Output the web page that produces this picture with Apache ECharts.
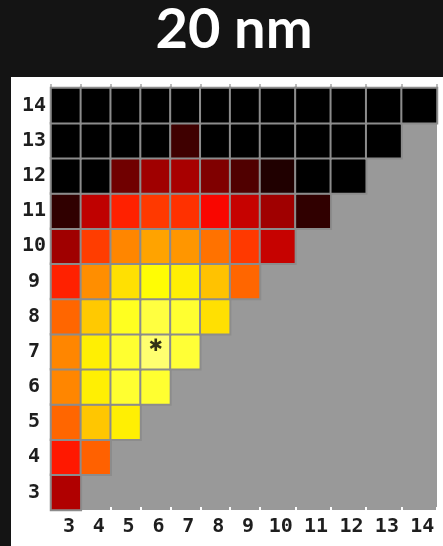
<!DOCTYPE html>
<html>
<head>
<meta charset="utf-8">
<script src="https://cdn.jsdelivr.net/npm/echarts@6/dist/echarts.min.js"></script>
<style>
html,body{margin:0;padding:0;background:#141414;}
#chart{width:443px;height:546px;}
</style>
</head>
<body>
<div id="chart"></div>
<script>
// ---- data ----
const xLabels = ['3','4','5','6','7','8','9','10','11','12','13','14'];
const yLabels = ['3','4','5','6','7','8','9','10','11','12','13','14'];
// normalised intensity per row (y), starting at x = 3
const row3  = [0.252];
const row4  = [0.400, 0.508];
const row5  = [0.515, 0.658, 0.724];
const row6  = [0.562, 0.724, 0.794, 0.794];
const row7  = [0.562, 0.724, 0.794, 0.857, 0.800];
const row8  = [0.515, 0.664, 0.778, 0.810, 0.794, 0.700];
const row9  = [0.413, 0.574, 0.700, 0.746, 0.724, 0.652, 0.515];
const row10 = [0.229, 0.455, 0.562, 0.604, 0.586, 0.532, 0.449, 0.286];
const row11 = [0.069, 0.275, 0.413, 0.449, 0.437, 0.365, 0.286, 0.229, 0.069];
const row12 = [0.000, 0.000, 0.160, 0.229, 0.240, 0.183, 0.115, 0.046, 0.000, 0.000];
const row13 = [0.000, 0.000, 0.000, 0.000, 0.090, 0.000, 0.000, 0.000, 0.000, 0.000, 0.000];
const row14 = [0.000, 0.000, 0.000, 0.000, 0.000, 0.000, 0.000, 0.000, 0.000, 0.000, 0.000, 0.000];
const starCell = ['6', '7'];
const titleText = '20 nm';

// ---- build heatmap data ----
const rows = [row3,row4,row5,row6,row7,row8,row9,row10,row11,row12,row13,row14];
const splitAt = 7; // columns 3..9 | 10..14
const dataA = [], dataB = [];
rows.forEach((r, iy) => {
  r.forEach((v, ix) => {
    if (ix < splitAt) dataA.push([ix, iy, v]);
    else dataB.push([ix - splitAt, iy, v]);
  });
});

const hot = ['#000000','#570000','#af0000','#ff0700','#ff5c00','#ffb100','#ffff04','#ffff82','#ffffff'];

const chart = echarts.init(document.getElementById('chart'), null, {renderer:'canvas'});
const labelFont = {fontFamily:'DejaVu Sans Mono', fontSize:20, fontWeight:'bold', color:'#1e1e1e'};
const gridCommon = {show:true, backgroundColor:'#999999', borderWidth:0, top:88, height:422};

function xAxisDef(gridIndex, cats, pos) {
  const bottom = pos === 'bottom';
  return {
    type:'category', gridIndex, data:cats, position:pos,
    axisLine:{show:false},
    axisTick: bottom
      ? {show:true, inside:true, length:3, lineStyle:{color:'#ffffff', width:2}}
      : {show:true, length:4, lineStyle:{color:'#a8a8a8', width:1.5}},
    axisLabel: bottom
      ? Object.assign({show:true, margin:7, padding:[0,0,0,6], interval:0}, labelFont)
      : {show:false},
    splitLine:{show:false}
  };
}

chart.setOption({
  backgroundColor:'#141414',
  animation:false,
  graphic:[
    {type:'rect', z:-1, shape:{x:11, y:77, width:432, height:469}, style:{fill:'#ffffff'}},
    {type:'rect', z:-1, shape:{x:51, y:88, width:386, height:422}, style:{fill:'#999999'}},
    {type:'text', z:5, x:234, y:30, style:{text:titleText, fill:'#ffffff',
      font:'bold 56px Lato', textAlign:'center', textVerticalAlign:'middle'}}
  ],
  grid:[
    Object.assign({left:51, width:209}, gridCommon),
    Object.assign({left:260, width:177}, gridCommon)
  ],
  xAxis:[
    xAxisDef(0, xLabels.slice(0, splitAt), 'bottom'),
    xAxisDef(1, xLabels.slice(splitAt), 'bottom'),
    xAxisDef(0, xLabels.slice(0, splitAt), 'top'),
    xAxisDef(1, xLabels.slice(splitAt), 'top')
  ],
  yAxis:[
    {type:'category', gridIndex:0, data:yLabels, axisLine:{show:false}, axisTick:{show:false},
     axisLabel:Object.assign({margin:17, align:'center', padding:[0,0,6,0], interval:0}, labelFont), splitLine:{show:false}},
    {type:'category', gridIndex:1, data:yLabels, axisLine:{show:false}, axisTick:{show:false},
     axisLabel:{show:false}, splitLine:{show:false}}
  ],
  visualMap:{type:'continuous', show:false, min:0, max:1, seriesIndex:[0,1], inRange:{color:hot}},
  series:[
    {type:'heatmap', xAxisIndex:0, yAxisIndex:0, data:dataA,
     itemStyle:{borderColor:'#8c8c8c', borderWidth:2}, emphasis:{disabled:true}},
    {type:'heatmap', xAxisIndex:1, yAxisIndex:1, data:dataB,
     itemStyle:{borderColor:'#8c8c8c', borderWidth:2}, emphasis:{disabled:true}},
    {type:'scatter', xAxisIndex:0, yAxisIndex:0, data:[starCell], symbolSize:1,
     itemStyle:{color:'rgba(0,0,0,0)'}, z:10, silent:true,
     label:{show:true, position:'inside', formatter:'✱', fontFamily:'DejaVu Sans', fontWeight:'bold', fontSize:17, color:'#000', offset:[0,-5]}}
  ]
});
</script>
</body>
</html>
